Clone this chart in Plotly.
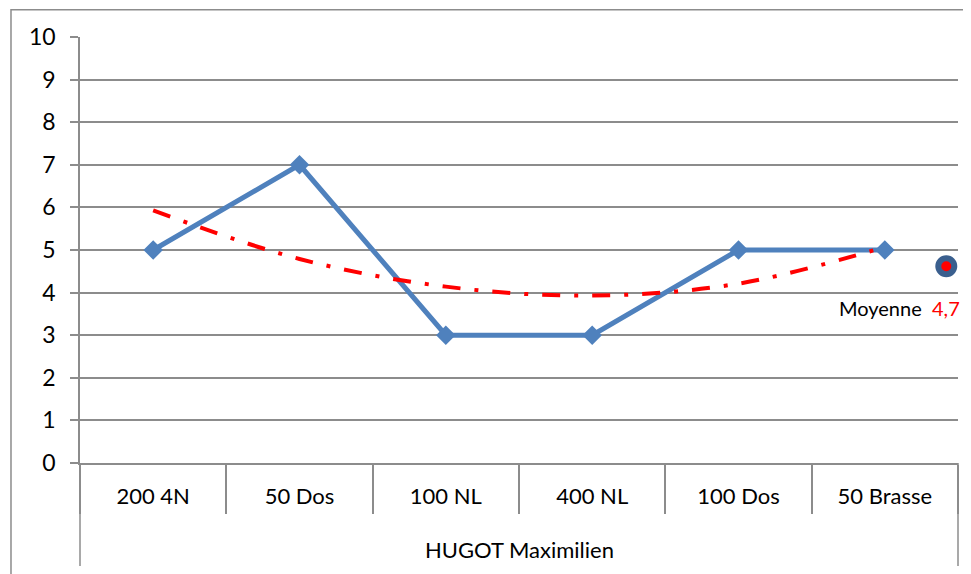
import plotly.graph_objects as go

# Data ##########################################################################################################
nageur = 'HUGOT Maximilien'
epreuves = ['200 4N', '50 Dos', '100 NL', '400 NL', '100 Dos', '50 Brasse']
notes = [5, 7, 3, 3, 5, 5]
tendance = [5.93, 4.79, 4.14, 3.93, 4.21, 5.07]  # polynomial trendline
moyenne = 4.62
moyenne_label = '4,7'
moyenne_pos = 5.42  # position on the category scale (between last category and the right edge)
y_ticks = list(range(0, 11))

FONT = 'Lato'
GRID = '#8c8c8c'

fig = go.Figure()

# Main series
fig.add_trace(go.Scatter(
    x=epreuves,
    y=notes,
    mode='lines+markers',
    line=dict(color='#4F81BD', width=5),
    marker=dict(symbol='diamond', size=15, color='#4F81BD'),
    showlegend=False,
    hoverinfo='skip'
))

# Trendline (long dash dot)
fig.add_trace(go.Scatter(
    x=epreuves,
    y=tendance,
    mode='lines',
    line=dict(color='#FF0000', width=4, dash='18px,14px,4px,14px', shape='spline', smoothing=1.0),
    showlegend=False,
    hoverinfo='skip'
))

# Average marker
fig.add_trace(go.Scatter(
    x=[moyenne_pos],
    y=[moyenne],
    xaxis='x2',
    mode='markers',
    marker=dict(symbol='circle', size=16, color='#FF0000', line=dict(color='#3A5F8E', width=6)),
    showlegend=False,
    hoverinfo='skip'
))

# Update layout (page body adds an 8px margin, so the figure is 8px smaller)
fig.update_layout(
    width=963,
    height=566,
    margin=dict(l=72, r=13, t=29, b=111),
    paper_bgcolor='white',
    plot_bgcolor='white',
    font=dict(family=FONT, size=22, color='black'),
    xaxis=dict(
        type='category',
        categoryorder='array',
        categoryarray=epreuves,
        range=[-0.5, 5.5],
        tickson='boundaries',
        ticks='outside',
        ticklen=49,
        tickwidth=1.5,
        tickcolor=GRID,
        ticklabelstandoff=13,
        showgrid=False,
        showline=True,
        linecolor=GRID,
        linewidth=1.5,
        zeroline=False,
        tickfont=dict(family=FONT, size=22)
    ),
    xaxis2=dict(
        overlaying='x',
        anchor='y',
        range=[-0.5, 5.5],
        visible=False
    ),
    yaxis=dict(
        range=[0, 10],
        tickvals=y_ticks,
        ticks='outside',
        ticklen=8,
        tickwidth=1.5,
        tickcolor=GRID,
        ticklabelstandoff=10,
        showgrid=True,
        gridcolor=GRID,
        gridwidth=1.5,
        showline=True,
        linecolor=GRID,
        linewidth=1.5,
        zeroline=False,
        tickfont=dict(family=FONT, size=23)
    ),
    shapes=[
        # outer chart border
        dict(type='rect', xref='paper', yref='paper', x0=-0.0786, x1=1.03, y0=-0.4, y1=1.064,
             line=dict(color=GRID, width=1.5)),
        # outer dividers of the two-level category axis
        dict(type='line', xref='paper', yref='paper', x0=0, x1=0, y0=0, y1=-0.242,
             line=dict(color=GRID, width=1.5)),
        dict(type='line', xref='paper', yref='paper', x0=1, x1=1, y0=0, y1=-0.242,
             line=dict(color=GRID, width=1.5)),
    ],
    annotations=[
        dict(text=nageur, xref='paper', yref='paper', x=0.5, y=-0.202, xanchor='center', yanchor='middle',
             showarrow=False, font=dict(family=FONT, size=22, color='black')),
        dict(text='Moyenne  <span style="color:#FF0000">' + moyenne_label + '</span>',
             xref='paper', yref='paper', x=1.0046, y=0.364, xanchor='right', yanchor='middle',
             showarrow=False, font=dict(family=FONT, size=20, color='black')),
    ]
)

fig.write_html('out.html')
